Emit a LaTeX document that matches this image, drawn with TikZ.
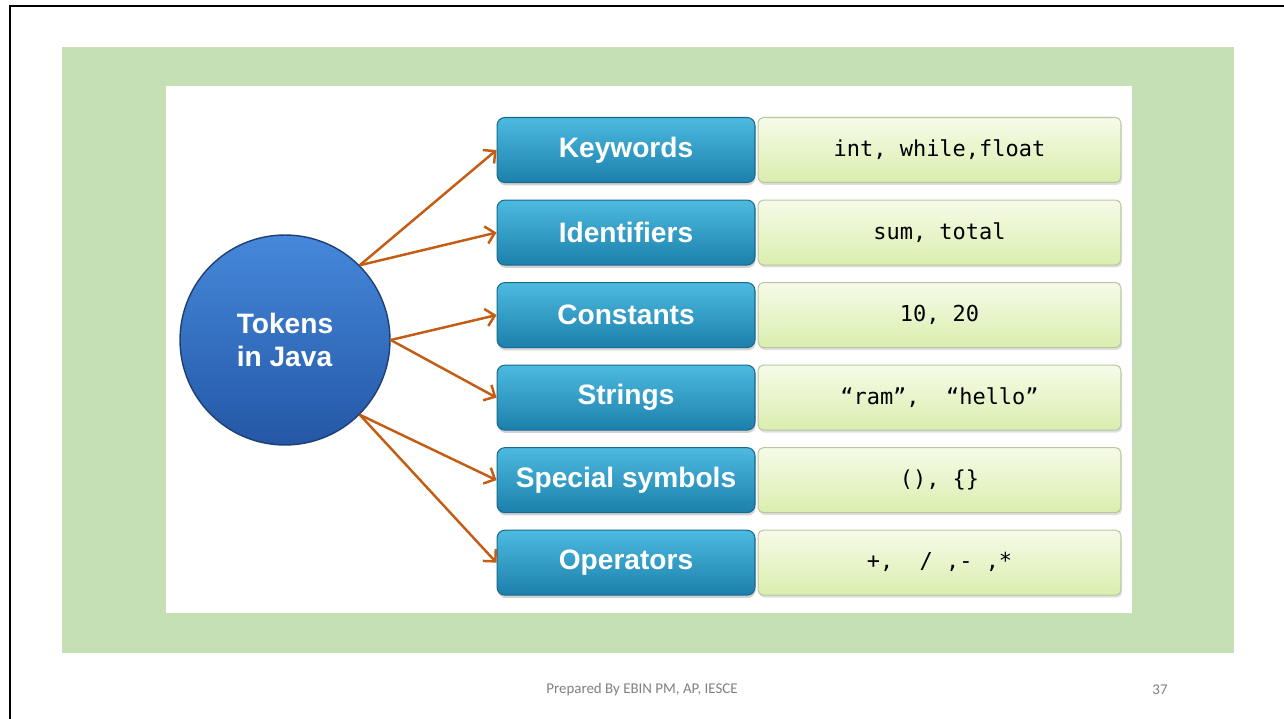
\documentclass[tikz,border=0pt]{standalone}
\usepackage{fontspec}
\setmainfont{Liberation Sans}
\newfontfamily\codefont{DejaVu Sans Mono}
\newfontfamily\footfont{Carlito}
\usepackage{xcolor}
\usepackage{tikz}
\usetikzlibrary{arrows.meta,positioning,shadows}
\definecolor{slideGreen}{HTML}{C5E0B4}
\definecolor{tokTop}{HTML}{4DBAE0}
\definecolor{tokBot}{HTML}{1B80AB}
\definecolor{tokLine}{HTML}{1A6A90}
\definecolor{ballTop}{HTML}{4688DA}
\definecolor{ballBot}{HTML}{2457A6}
\definecolor{ballLine}{HTML}{1E3F73}
\definecolor{exTop}{HTML}{F6FBE8}
\definecolor{exBot}{HTML}{DAEEAE}
\definecolor{exLine}{HTML}{B9C7A0}
\definecolor{arrOrange}{HTML}{C45C14}
\definecolor{footGray}{HTML}{7F7F7F}
\tikzset{
  ball/.style={circle, draw=ballLine, line width=0.8pt, top color=ballTop, bottom color=ballBot,
    minimum size=4.2cm, inner sep=0pt, text=white, align=left,
    font=\fontsize{16}{19}\selectfont\bfseries},
  tok/.style={draw=tokLine, line width=0.6pt, rounded corners=4.5pt, top color=tokTop, bottom color=tokBot,
    minimum width=5.16cm, minimum height=1.3cm, inner sep=0pt, text=white,
    font=\fontsize{16}{19}\selectfont\bfseries,
    drop shadow={opacity=0.35, shadow xshift=0.4pt, shadow yshift=-1.6pt}},
  ex/.style={draw=exLine, line width=0.6pt, rounded corners=3pt, top color=exTop, bottom color=exBot,
    minimum width=7.26cm, minimum height=1.3cm, inner sep=0pt, text=black,
    font=\codefont\fontsize{12.5}{15}\selectfont,
    drop shadow={opacity=0.25, shadow xshift=0.6pt, shadow yshift=-1.4pt}},
  link/.style={draw=arrOrange, line width=1.4pt, -{Straight Barb[length=5pt,width=10pt]}},
  foot/.style={font=\footfont\fontsize{8.5}{10}\selectfont, text=footGray, inner sep=0pt},
}

\begin{document}
\begin{tikzpicture}[x=0.02cm, y=-0.02cm]
\useasboundingbox (0,0) rectangle (1284,719);
% --- slide frame and panels
\draw[line width=1.2pt] (10,719) -- (10,6) -- (1284,6);
\fill[slideGreen] (62,47) rectangle (1234,653);
\fill[white] (166,86) rectangle (1132,613);
% --- centre
\node[ball] (tj) at (285,340) {Tokens\\in Java};
% --- token kinds
\node[tok] (kw) at (626,150) {Keywords};
\node[tok, below=0.33cm of kw] (id) {Identifiers};
\node[tok, below=0.33cm of id] (co) {Constants};
\node[tok, below=0.33cm of co] (st) {Strings};
\node[tok, below=0.33cm of st] (sp) {Special symbols};
\node[tok, below=0.33cm of sp] (op) {Operators};
% --- examples
\node[ex, right=0.04cm of kw] (kwx) {int, while,float};
\node[ex, right=0.04cm of id] (idx) {sum, total};
\node[ex, right=0.04cm of co] (cox) {10, 20};
\node[ex, right=0.04cm of st] (stx) {“ram”,\ \ “hello”};
\node[ex, right=0.04cm of sp] (spx) {(), \{\}};
\node[ex, right=0.04cm of op] (opx) {\raisebox{3pt}{+,\ \ / ,- ,*}};
% --- arrows
\draw[link] (tj.45) -- (kw.west);
\draw[link] (tj.45) -- (id.west);
\draw[link] (tj.east) -- (co.west);
\draw[link] (tj.east) -- (st.west);
\draw[link] (tj.-45) -- (sp.west);
\draw[link] (tj.-45) -- (op.west);
% --- footer
\node[foot] (fn) at (642,690) {Prepared By EBIN PM, AP, IESCE};
\node[foot] (pg) at (1160,690) {37};
\end{tikzpicture}
\end{document}
